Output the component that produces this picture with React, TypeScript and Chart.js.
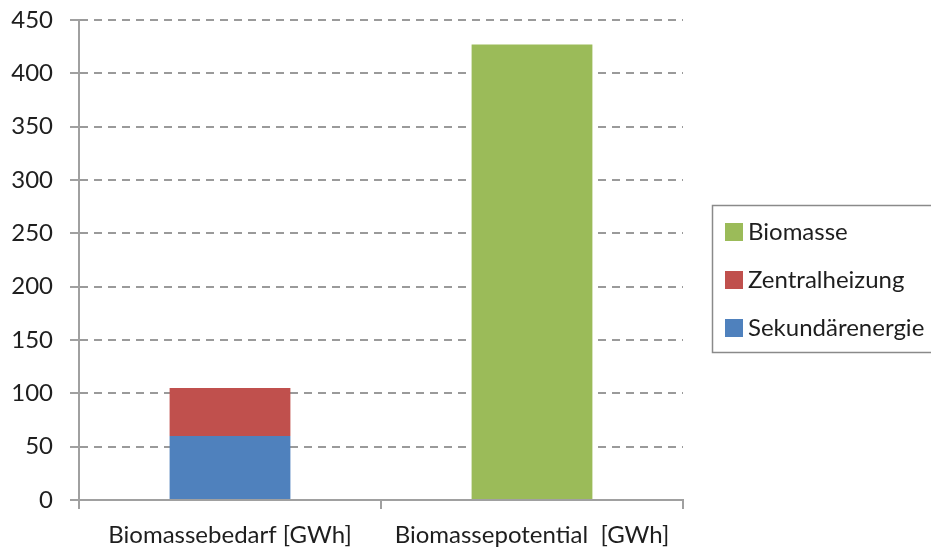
import React, { useEffect, useRef } from "react";
import { Chart, registerables } from "chart.js";

Chart.register(...registerables);

const categories = ["Biomassebedarf [GWh]", "Biomassepotential  [GWh]"];
const sekundaerenergie = [60, 0];
const zentralheizung = [45, 0];
const biomasse = [0, 427];
const yTicks = [0, 50, 100, 150, 200, 250, 300, 350, 400, 450];

const FONT = "Lato";
const TEXT = "#1e1e1e";
const AXIS = "#a0a0a0";
const GRID = "#9a9a9a";

const legendPlugin = {
  id: "boxLegend",
  afterDraw(chart: any) {
    const ctx = chart.ctx;
    const ds = chart.data.datasets.slice().reverse();
    ctx.save();
    ctx.strokeStyle = "#8a8a8a";
    ctx.lineWidth = 1.5;
    ctx.strokeRect(712.5, 205.5, 240, 147);
    ctx.font = `24px ${FONT}`;
    ctx.textBaseline = "middle";
    ctx.textAlign = "left";
    ds.forEach((d: any, i: number) => {
      const cy = 232 + i * 48;
      ctx.fillStyle = d.backgroundColor;
      ctx.fillRect(725, cy - 9, 18, 18);
      ctx.fillStyle = TEXT;
      ctx.fillText(d.label, 748, cy);
    });
    ctx.restore();
  },
};

export default function App() {
  const ref = useRef<HTMLCanvasElement>(null);
  useEffect(() => {
    if (!ref.current) return;
    const chart = new Chart(ref.current, {
      type: "bar",
      data: {
        labels: categories,
        datasets: [
          { label: "Sekundärenergie", data: sekundaerenergie, backgroundColor: "#4F81BD" },
          { label: "Zentralheizung", data: zentralheizung, backgroundColor: "#C0504D" },
          { label: "Biomasse", data: biomasse, backgroundColor: "#9BBB59" },
        ],
      },
      options: {
        responsive: false,
        animation: false,
        layout: { padding: { left: 0, top: 20, right: 248, bottom: 0 } },
        plugins: { legend: { display: false }, tooltip: { enabled: false } },
        datasets: { bar: { barPercentage: 0.4, categoryPercentage: 1 } },
        scales: {
          x: {
            stacked: true,
            grid: { drawOnChartArea: false, drawTicks: true, tickLength: 9, color: AXIS, lineWidth: 2, offset: true },
            border: { color: AXIS, width: 2 },
            ticks: { color: TEXT, font: { family: FONT, size: 24 }, padding: 12, maxRotation: 0 },
            afterFit: (a: any) => { a.height = 48; a.paddingLeft = 0; a.paddingRight = 0; },
          },
          y: {
            stacked: true,
            min: 0,
            max: 450,
            afterBuildTicks: (a: any) => { a.ticks = yTicks.map((v) => ({ value: v })); },
            grid: { color: GRID, tickLength: 9, tickColor: AXIS, tickBorderDash: [], lineWidth: 2 },
            border: { color: AXIS, width: 2, dash: [8, 6] },
            ticks: { color: TEXT, font: { family: FONT, size: 24 }, padding: 17 },
            afterFit: (a: any) => { a.width = 79; a.paddingTop = 0; a.paddingBottom = 0; },
          },
        },
      },
      plugins: [legendPlugin],
    });
    return () => chart.destroy();
  }, []);
  return (
    <div style={{ position: "absolute", left: 0, top: 0, width: 931, height: 548, background: "#fff" }}>
      <canvas ref={ref} width={931} height={548} />
    </div>
  );
}
